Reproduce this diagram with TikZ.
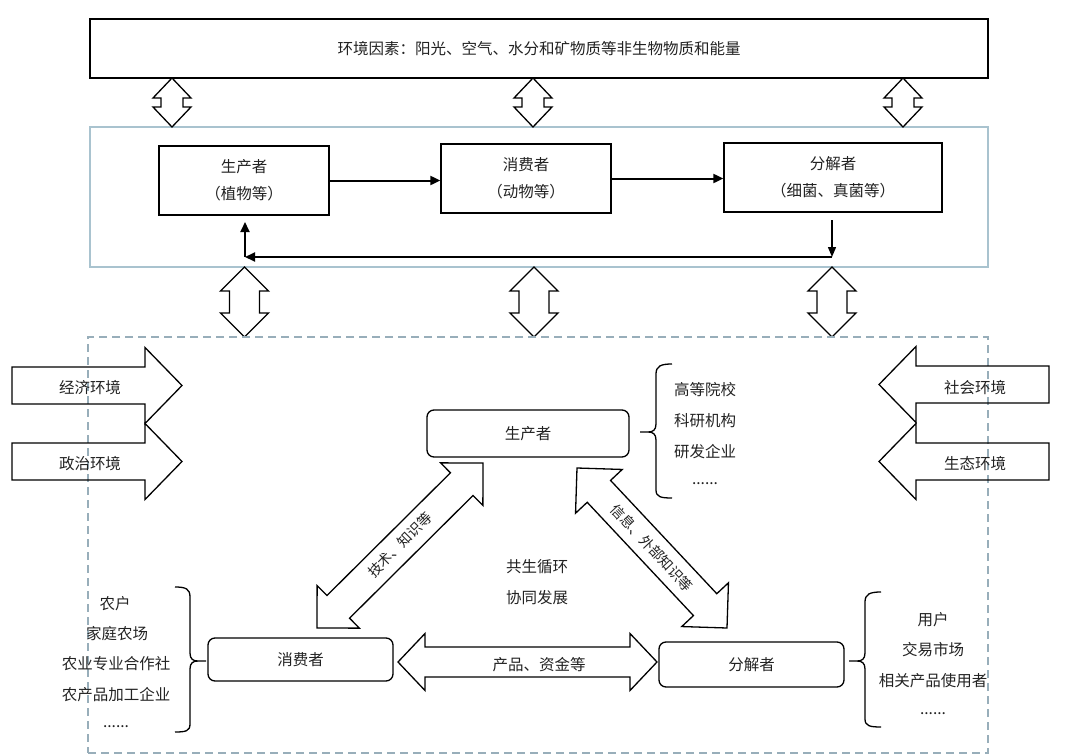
\documentclass[tikz,border=0pt]{standalone}
\usepackage{fontspec}
\setmainfont{Noto Sans CJK SC}
\usetikzlibrary{calc,arrows.meta}
\definecolor{boxblue}{HTML}{A9C3CF}
\definecolor{dashblue}{HTML}{98AEBA}
\definecolor{txt}{HTML}{222222}
\newcommand{\dblarr}[5]{%
  \draw[blockarrow] (#1) -- ($(#1)!#5!(#2)!#4!90:(#2)$) -- ($(#1)!#5!(#2)!#3!90:(#2)$)
    -- ($(#2)!#5!(#1)!#3!-90:(#1)$) -- ($(#2)!#5!(#1)!#4!-90:(#1)$) -- (#2)
    -- ($(#2)!#5!(#1)!#4!90:(#1)$) -- ($(#2)!#5!(#1)!#3!90:(#1)$)
    -- ($(#1)!#5!(#2)!#3!-90:(#2)$) -- ($(#1)!#5!(#2)!#4!-90:(#2)$) -- cycle;}
\newcommand{\sglarr}[5]{%
  \draw[blockarrow] ($(#1)!#3!90:(#2)$) -- ($(#2)!#5!(#1)!#3!-90:(#1)$) -- ($(#2)!#5!(#1)!#4!-90:(#1)$)
    -- (#2) -- ($(#2)!#5!(#1)!#4!90:(#1)$) -- ($(#2)!#5!(#1)!#3!90:(#1)$) -- ($(#1)!#3!-90:(#2)$) -- cycle;}
\tikzset{
  every node/.style={text=txt, font=\fontsize{15.5}{18}\selectfont},
  sqbox/.style={draw=black, line width=1.3pt, inner sep=0pt, align=center},
  rbox/.style={draw=black, line width=1.3pt, rounded corners=7pt, inner sep=0pt},
  blockarrow/.style={draw=black, line width=1.3pt, line join=miter},
  flowarr/.style={line width=2pt, -{Triangle[length=10pt,width=9pt]}},
  thinarr/.style={line width=1.4pt, -{Triangle[length=10pt,width=8pt]}},
  brace/.style={draw=black, line width=1.3pt},
  lbl/.style={inner sep=0pt},
  diaglbl/.style={inner sep=0pt, font=\fontsize{14}{16}\selectfont}
}
\begin{document}
\begin{tikzpicture}[x=1pt,y=-1pt]
\useasboundingbox (0,0) rectangle (1080,755);
% ---------- top part ----------
\node[sqbox, minimum width=898pt, minimum height=59pt] (env) at (539,48.5) {环境因素：阳光、空气、水分和矿物质等非生物物质和能量};
\node[draw=boxblue, line width=1.1pt, minimum width=898pt, minimum height=140pt, inner sep=0pt] (eco) at (539,197) {};
\node[sqbox, minimum width=170pt, minimum height=69pt] (p1) at (244,180.5) {生产者\\[9pt]（植物等）};
\node[sqbox, minimum width=170pt, minimum height=69pt] (c1) at (526,178.5) {消费者\\[9pt]（动物等）};
\node[sqbox, minimum width=218pt, minimum height=69pt] (d1) at (833,177.5) {分解者\\[9pt]（细菌、真菌等）};
\draw[flowarr] (p1.east) -- (p1.east -| c1.west);
\draw[flowarr] (c1.east) -- (c1.east -| d1.west);
\coordinate (fbT) at (832,220);
\coordinate (fbR) at (832,257);
\coordinate (fbL) at (245,257);
\coordinate (fbB) at (245,222);
\draw[thinarr] (fbT) -- (fbR);
\draw[flowarr] (fbR) -- (fbL);
\draw[flowarr] (fbL) -- (fbB);
% top double arrows
\coordinate (ta1) at (172,78);  \coordinate (tb1) at (172,127);
\coordinate (ta2) at (533,78);  \coordinate (tb2) at (533,127);
\coordinate (ta3) at (903,78);  \coordinate (tb3) at (903,127);
\dblarr{ta1}{tb1}{11pt}{19pt}{20pt}
\dblarr{ta2}{tb2}{11pt}{19pt}{20pt}
\dblarr{ta3}{tb3}{11pt}{19pt}{20pt}
% second row double arrows
\coordinate (sa1) at (244.5,267); \coordinate (sb1) at (244.5,337);
\coordinate (sa2) at (534,267);   \coordinate (sb2) at (534,337);
\coordinate (sa3) at (832,267);   \coordinate (sb3) at (832,337);
\dblarr{sa1}{sb1}{15pt}{24pt}{24pt}
\dblarr{sa2}{sb2}{15pt}{24pt}{24pt}
\dblarr{sa3}{sb3}{15pt}{24pt}{24pt}
% ---------- bottom part ----------
\node[draw=dashblue, line width=1.1pt, dash pattern=on 8pt off 5pt, minimum width=900pt, minimum height=416pt, inner sep=0pt] (sys) at (538,545) {};
% environment arrows
\coordinate (e1a) at (12,385.5);   \coordinate (e1b) at (182,385.5);
\coordinate (e2a) at (12,461.5);   \coordinate (e2b) at (182,461.5);
\coordinate (e3a) at (1049,384.5); \coordinate (e3b) at (879,384.5);
\coordinate (e4a) at (1049,461.5); \coordinate (e4b) at (879,461.5);
\sglarr{e1a}{e1b}{18.5pt}{38pt}{37pt}
\sglarr{e2a}{e2b}{18.5pt}{38pt}{37pt}
\sglarr{e3a}{e3b}{18.5pt}{38pt}{37pt}
\sglarr{e4a}{e4b}{18.5pt}{38pt}{37pt}
\node[lbl] (econ) at (90,388) {经济环境};
\node[lbl] (poli) at (90,464) {政治环境};
\node[lbl] (soc) at (975,388) {社会环境};
\node[lbl] (ecol) at (975,464) {生态环境};
% main nodes
\node[rbox, minimum width=202pt, minimum height=47pt] (P2) at (528,433.5) {生产者};
\node[rbox, minimum width=185pt, minimum height=43pt] (C2) at (300.5,659.5) {消费者};
\node[rbox, minimum width=185pt, minimum height=45pt] (D2) at (751.5,664.5) {分解者};
% double arrows between nodes
\coordinate (h1) at (398,662); \coordinate (h2) at (657,662);
\dblarr{h1}{h2}{15pt}{28.5pt}{27pt}
\coordinate (l1) at (317,628); \coordinate (l2) at (483,463);
\dblarr{l1}{l2}{16pt}{30pt}{30pt}
\coordinate (r1) at (577,468); \coordinate (r2) at (727,628);
\dblarr{r1}{r2}{16pt}{32pt}{32pt}
\node[diaglbl, rotate=45] (tech) at (400,545) {技术、知识等};
\node[diaglbl, rotate=-47] (info) at (652,548) {信息、外部知识等};
\node[lbl] (prod) at (539,665) {产品、资金等};
\node[lbl] (sym1) at (537,567) {共生循环};
\node[lbl] (sym2) at (537,598) {协同发展};
% lists
\node[lbl] (u1) at (705,390) {高等院校};
\node[lbl] (u2) at (705,421) {科研机构};
\node[lbl] (u3) at (705,452) {研发企业};
\node[lbl] (u4) at (705,484) {......};
\node[lbl] (f1) at (115,604) {农户};
\node[lbl] (f2) at (117,634) {家庭农场};
\node[lbl] (f3) at (116,664) {农业专业合作社};
\node[lbl] (f4) at (116,695) {农产品加工企业};
\node[lbl] (f5) at (116,727) {......};
\node[lbl] (m1) at (933,620) {用户};
\node[lbl] (m2) at (933,650) {交易市场};
\node[lbl] (m3) at (933,681) {相关产品使用者};
\node[lbl] (m4) at (933,714) {......};
% braces
\draw[brace] (672,364) .. controls (661,364) and (656,366) .. (656,374) -- (656,424)
  .. controls (656,430) and (653,432) .. (648,432) -- (640,432) -- (648,432)
  .. controls (653,432) and (656,434) .. (656,440) -- (656,490)
  .. controls (656,497) and (661,498) .. (672,498);
\draw[brace] (175,587) .. controls (186,587) and (190,589) .. (190,597) -- (190,653)
  .. controls (190,659) and (193,661) .. (198,661) -- (206,661) -- (198,661)
  .. controls (193,661) and (190,663) .. (190,669) -- (190,724)
  .. controls (190,731) and (186,732) .. (175,732);
\draw[brace] (881,592) .. controls (870,592) and (865,594) .. (865,602) -- (865,653)
  .. controls (865,659) and (862,661) .. (857,661) -- (849,661) -- (857,661)
  .. controls (862,661) and (865,663) .. (865,669) -- (865,719)
  .. controls (865,726) and (870,727) .. (881,727);
\end{tikzpicture}
\end{document}
